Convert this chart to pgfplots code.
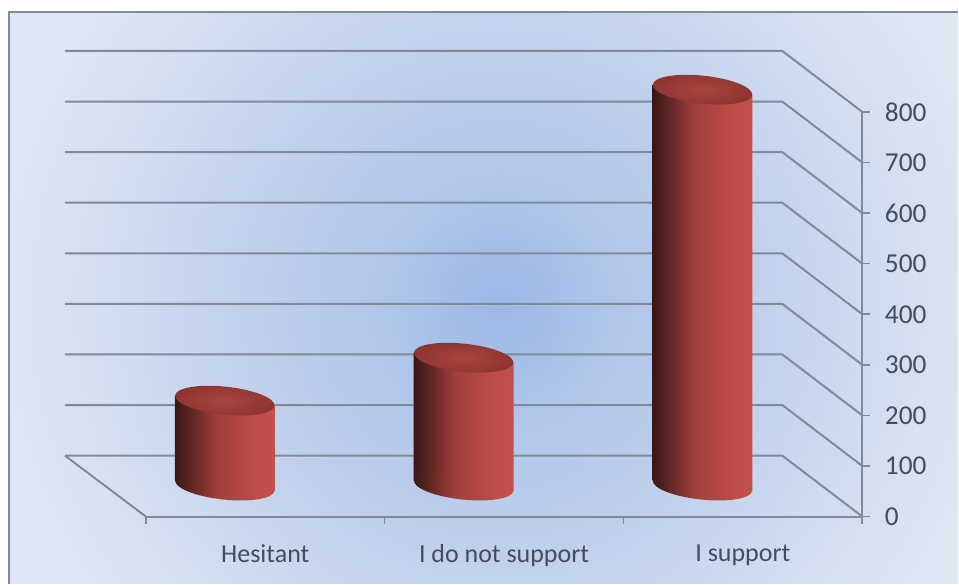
\documentclass[border=0pt]{standalone}
\usepackage{pgfplots}
\pgfplotsset{compat=1.18}
\usepackage{fontspec}
\setmainfont{Carlito}
\definecolor{bgout}{HTML}{DFE7F5}
\definecolor{bgmid}{HTML}{C0D0EC}
\definecolor{bgin}{HTML}{9CB8E7}
\definecolor{gridc}{HTML}{808B9A}
\definecolor{txt}{HTML}{424D5E}
\definecolor{cylA}{HTML}{3A1715}
\definecolor{cylB}{HTML}{5E2623}
\definecolor{cylC}{HTML}{9C3E3A}
\definecolor{cylD}{HTML}{B04543}
\definecolor{cylE}{HTML}{C24E4A}
\definecolor{cylF}{HTML}{C4504C}
\definecolor{capin}{HTML}{A84440}
\definecolor{capout}{HTML}{8E3530}
\pgfdeclarehorizontalshading{cyl}{100bp}{
 color(0bp)=(cylA); color(25bp)=(cylA); color(33bp)=(cylB); color(45bp)=(cylC);
 color(55bp)=(cylD); color(68bp)=(cylE); color(75bp)=(cylF); color(100bp)=(cylF)}
\def\tiltedcap{(37.29pt,-3.92pt)
  .. controls (37.90pt,1.85pt) and (21.70pt,8.27pt) .. (1.10pt,10.44pt)
  .. controls (-19.50pt,12.61pt) and (-36.68pt,9.69pt) .. (-37.29pt,3.92pt)
  .. controls (-37.90pt,-1.85pt) and (-21.70pt,-8.27pt) .. (-1.10pt,-10.44pt)
  .. controls (19.50pt,-12.61pt) and (36.68pt,-9.69pt) .. (37.29pt,-3.92pt) -- cycle}
\pgfdeclareplotmark{captop}{%
  \shade[draw=none,inner color=capin,outer color=capout] \tiltedcap;}
\pgfdeclareplotmark{capbot}{%
  \shade[draw=none,shading=cyl] \tiltedcap;}
\pgfdeclareradialshading{bgshade}{\pgfpoint{0bp}{0bp}}{
 color(0bp)=(bgin); color(4bp)=(bgmid!55!bgin); color(9bp)=(bgmid); color(18bp)=(bgout); color(50bp)=(bgout)}
\begin{document}
\begin{tikzpicture}[x=0.75pt,y=0.75pt]
\path (0,0) rectangle (959,584);
\begin{scope}
\clip (9,0) rectangle (959,572);
\shade[shading=bgshade] (500,280) circle [radius=700];
\end{scope}
\draw[gridc,line width=1.2pt] (9,0) -- (9,572) -- (959,572);
% main frame: value axis, floor, walls
\begin{axis}[
  at={(109.5pt,50.25pt)}, anchor=south west,
  scale only axis, width=537.75pt, height=303.75pt,
  xmin=0, xmax=3, ymin=0, ymax=800,
  clip=false,
  axis x line*=bottom, axis y line*=right,
  axis line style={gridc,line width=1.5pt,-},
  xtick={0,1,2,3}, x tick label as interval,
  xticklabels={Hesitant,I do not support,I support},
  ytick={0,100,...,800},
  tick style={gridc,line width=1.2pt},
  major tick length=5.5pt,
  tick align=outside,
  x tick label style={text=txt,font=\fontsize{19.5}{22}\selectfont,yshift=-12pt},
  y tick label style={text=txt,font=\fontsize{20.5}{24}\selectfont,xshift=8pt},
  /pgf/number format/assume math mode=true,
]
\addplot[gridc,line width=1.5pt,no marks] coordinates {(-0.339,120.5) (2.665,120.5) (3,0)};
\addplot[gridc,line width=1.5pt,no marks] coordinates {(-0.339,120.5) (0,0)};
\addplot[gridc,line width=1.5pt,no marks] coordinates {(-0.339,220.5) (2.665,220.5) (3,100)};
\addplot[gridc,line width=1.5pt,no marks] coordinates {(-0.339,320.5) (2.665,320.5) (3,200)};
\addplot[gridc,line width=1.5pt,no marks] coordinates {(-0.339,420.5) (2.665,420.5) (3,300)};
\addplot[gridc,line width=1.5pt,no marks] coordinates {(-0.339,520.5) (2.665,520.5) (3,400)};
\addplot[gridc,line width=1.5pt,no marks] coordinates {(-0.339,620.5) (2.665,620.5) (3,500)};
\addplot[gridc,line width=1.5pt,no marks] coordinates {(-0.339,720.5) (2.665,720.5) (3,600)};
\addplot[gridc,line width=1.5pt,no marks] coordinates {(-0.339,820.5) (2.665,820.5) (3,700)};
\addplot[gridc,line width=1.5pt,no marks] coordinates {(-0.339,920.5) (2.665,920.5) (3,800)};
\end{axis}
% cylinders: box starts at the first bar's foot, at the depth of the bars
\begin{axis}[
  at={(168.75pt,73.5pt)}, anchor=south west,
  scale only axis, width=478.5pt, height=281.25pt,
  xmin=0, xmax=2.669, ymin=0, ymax=741,
  clip=false, hide axis,
]
\addplot[only marks,mark=capbot] coordinates {(0,0)(1,0)(2,0)};
\addplot[draw=none,shading=cyl] coordinates {(-0.2092,10) (-0.2092,178) (0.2092,158) (0.2092,-10)} -- cycle;
\addplot[draw=none,shading=cyl] coordinates {(0.7908,10) (0.7908,263) (1.2092,243) (1.2092,-10)} -- cycle;
\addplot[draw=none,shading=cyl] coordinates {(1.7908,10) (1.7908,793) (2.2092,773) (2.2092,-10)} -- cycle;
\addplot[only marks,mark=captop] coordinates {(0,168)(1,253)(2,783)};
\end{axis}
\end{tikzpicture}
\end{document}
